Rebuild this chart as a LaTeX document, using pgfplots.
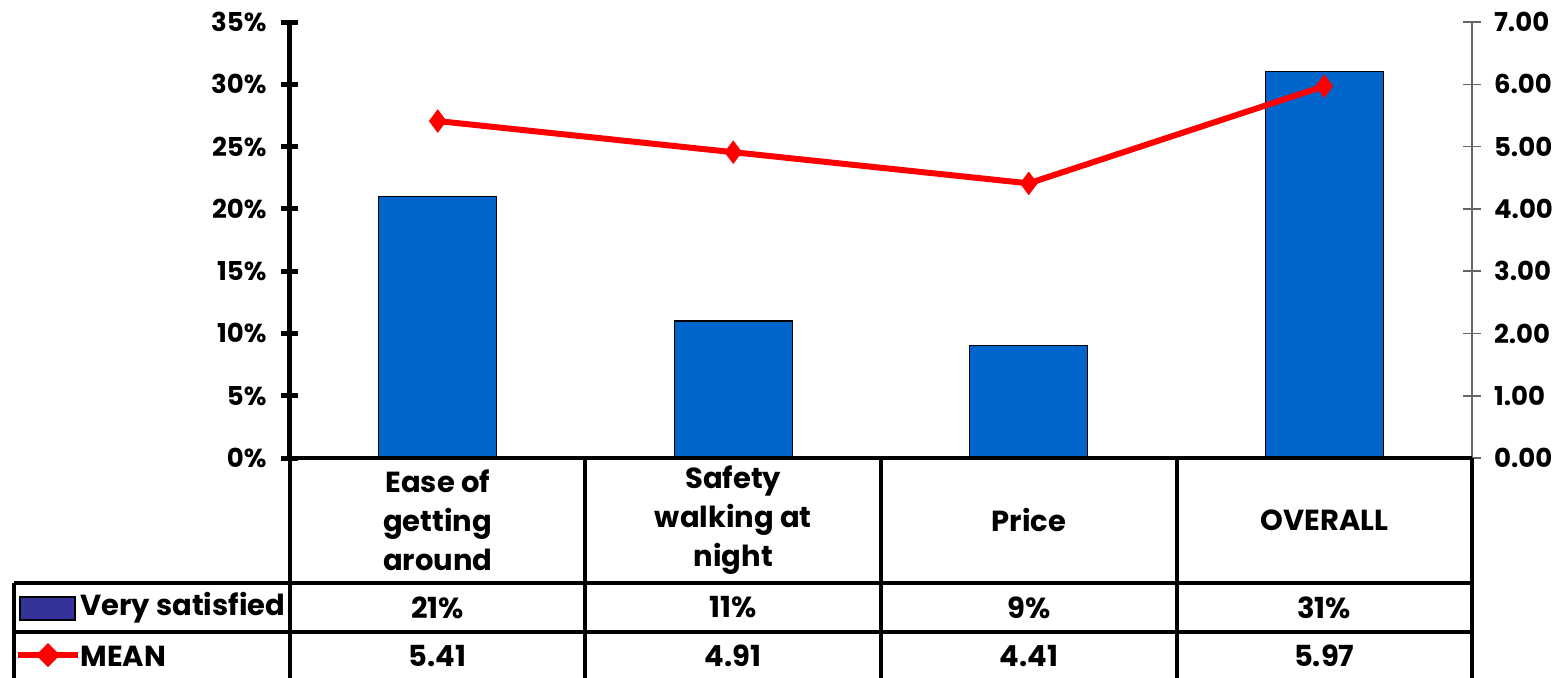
\documentclass[border=0pt]{standalone}
\usepackage{fontspec}
\setmainfont{Poppins}
\usepackage{pgfplots}
\pgfplotsset{compat=1.18}

\definecolor{barblue}{HTML}{0066CC}
\definecolor{keyblue}{HTML}{333399}
\definecolor{meanred}{HTML}{FF0000}

\begin{document}
\begin{tikzpicture}
% very satisfied (%), left axis
\begin{axis}[
    scale only axis,
    width=591pt, height=218pt,
    xmin=-0.5, xmax=3.5,
    ymin=0, ymax=35,
    axis x line=none,
    axis y line*=left,
    y axis line style={line width=2.5pt, black, -},
    ytick={0,5,...,35},
    yticklabel={\pgfmathprintnumber[assume math mode=true]{\tick}\%},
    yticklabel style={font=\fontsize{13}{15}\selectfont\bfseries, xshift=-4pt},
    tick align=center,
    major tick length=8.5pt,
    ytick style={line width=2.5pt, black},
    clip=false,
]
\addplot[ybar, bar width=0.4, fill=barblue, draw=black, line width=0.6pt]
    coordinates {(0,21) (1,11) (2,9) (3,31)};
\end{axis}
% mean score, right axis
\begin{axis}[
    scale only axis,
    width=591pt, height=218pt,
    xmin=-0.5, xmax=3.5,
    ymin=0, ymax=7,
    axis x line=none,
    axis y line*=right,
    y axis line style={line width=0.8pt, gray!80!black, -},
    ytick={0,1,...,7},
    yticklabel={\pgfmathprintnumber[fixed,fixed zerofill,precision=2,assume math mode=true]{\tick}},
    yticklabel style={font=\fontsize{13}{15}\selectfont\bfseries, xshift=3pt},
    tick align=center,
    major tick length=9pt,
    ytick style={line width=0.8pt, gray!80!black},
    clip=false,
]
\addplot[meanred, line width=3pt, mark=diamond*, mark size=5.5pt,
         mark options={fill=meanred, line width=0.5pt}]
    coordinates {(0,5.41) (1,4.91) (2,4.41) (3,5.97)};
\end{axis}

% data table below the plot
\begin{scope}[line width=2pt]
  \draw (0,0) -- (591pt,0);
  \draw (-138pt,-62.5pt) -- (591pt,-62.5pt);
  \draw (-138pt,-87pt) -- (591pt,-87pt);
  \draw (-138pt,-62.5pt) -- (-138pt,-112pt);
  \foreach \x in {0,147.75,295.5,443.25,591}
    \draw (\x pt,0) -- (\x pt,-112pt);
\end{scope}

\begin{scope}[font=\fontsize{14.5}{19.5}\selectfont\bfseries]
  \node[align=center] at (73.875pt,-31pt) {Ease of\\getting\\around};
  \node[align=center] at (221.625pt,-31pt) {Safety\\walking at\\night};
  \node[align=center] at (369.375pt,-31pt) {Price};
  \node[align=center] at (517.125pt,-31pt) {OVERALL};

  \node at (73.875pt,-74.75pt) {21\%};
  \node at (221.625pt,-74.75pt) {11\%};
  \node at (369.375pt,-74.75pt) {9\%};
  \node at (517.125pt,-74.75pt) {31\%};

  \node at (73.875pt,-99pt) {5.41};
  \node at (221.625pt,-99pt) {4.91};
  \node at (369.375pt,-99pt) {4.41};
  \node at (517.125pt,-99pt) {5.97};

  \node[anchor=west, inner sep=0pt] at (-105pt,-74.75pt) {Very satisfied};
  \node[anchor=west, inner sep=0pt] at (-105pt,-99pt) {MEAN};
\end{scope}

% legend keys in the table
\draw[fill=keyblue, draw=black, line width=0.6pt] (-135pt,-69.5pt) rectangle (-107.5pt,-81pt);
\draw[meanred, line width=3pt] (-136pt,-98.5pt) -- (-106pt,-98.5pt);
\fill[meanred] (-121pt,-92.5pt) -- (-115pt,-98.5pt) -- (-121pt,-104.5pt) -- (-127pt,-98.5pt) -- cycle;

\pgfresetboundingbox
\path (-145pt,229pt) rectangle (632.5pt,-109.5pt);
\end{tikzpicture}
\end{document}
